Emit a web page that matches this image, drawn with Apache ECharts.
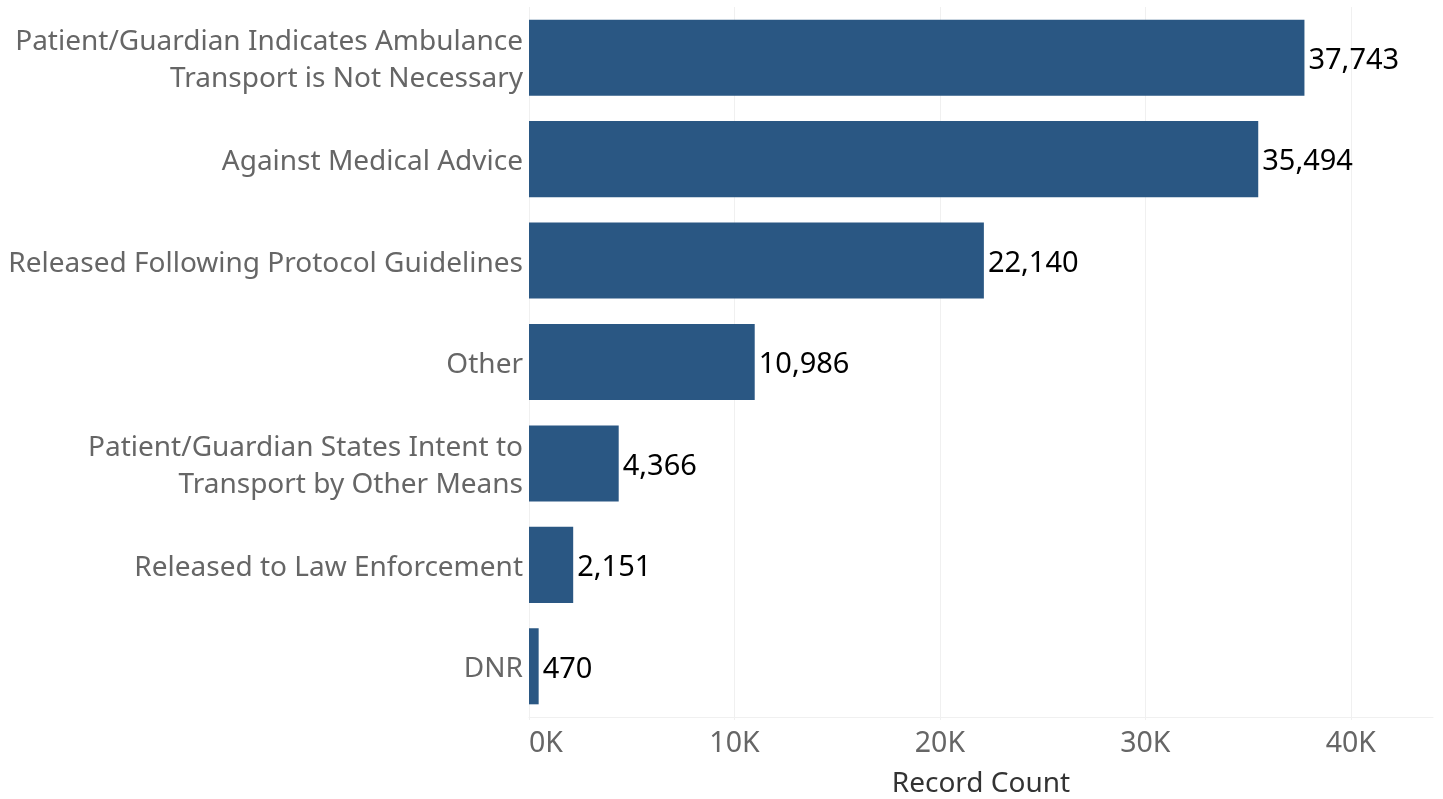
<!DOCTYPE html>
<html>
<head>
<meta charset="utf-8">
<title>Record Count by Disposition</title>
<script src="https://cdn.jsdelivr.net/npm/echarts@6/dist/echarts.min.js"></script>
<style>
  html, body { margin: 0; padding: 0; background: #ffffff; }
  #chart { width: 1443px; height: 799px; }
</style>
</head>
<body>
<div id="chart"></div>
<script>
// Dispositions, top to bottom
const categories = [
  'Patient/Guardian Indicates Ambulance\nTransport is Not Necessary',
  'Against Medical Advice',
  'Released Following Protocol Guidelines',
  'Other',
  'Patient/Guardian States Intent to\nTransport by Other Means',
  'Released to Law Enforcement',
  'DNR'
];
const recordCounts = [37743, 35494, 22140, 10986, 4366, 2151, 470];

const axisMax = 44000;
const tickStep = 10000;

const FONT = '"Noto Sans", "Open Sans", sans-serif';
const BAR_COLOR = '#2a5783';
const GRID_COLOR = '#f0f0f0';

const chart = echarts.init(document.getElementById('chart'), null, { renderer: 'canvas' });

chart.setOption({
  backgroundColor: '#ffffff',
  animation: false,
  grid: { left: 529, right: 10, top: 7, bottom: 82, containLabel: false, outerBoundsMode: 'none' },
  xAxis: {
    type: 'value',
    min: 0,
    max: axisMax,
    interval: tickStep,
    name: 'Record Count',
    nameLocation: 'middle',
    nameGap: 53,
    nameTextStyle: { color: '#333333', fontSize: 28, fontFamily: FONT },
    axisLine: { show: true, lineStyle: { color: GRID_COLOR, width: 1 } },
    axisTick: { show: true, length: 3, lineStyle: { color: GRID_COLOR } },
    splitLine: { show: true, showMinLine: true, showMaxLine: false, lineStyle: { color: GRID_COLOR, width: 1 } },
    axisLabel: {
      color: '#666666',
      fontSize: 28.5,
      fontFamily: FONT,
      margin: 12,
      showMaxLabel: false,
      alignMinLabel: 'left',
      formatter: v => (v / 1000) + 'K'
    }
  },
  yAxis: {
    type: 'category',
    inverse: true,
    data: categories,
    axisLine: { show: false },
    axisTick: { show: false },
    splitLine: { show: false },
    axisLabel: {
      margin: 6,
      align: 'right',
      // each line is a rich token nudged slightly down so it sits on the bar's centre
      formatter: v => v.split('\n').map(s => '{c|' + s + '}').join('\n'),
      rich: {
        c: {
          color: '#666666',
          fontSize: 28,
          fontFamily: FONT,
          lineHeight: 37,
          padding: [6, 0, 0, 0],
          align: 'right'
        }
      }
    }
  },
  series: [{
    type: 'bar',
    data: recordCounts,
    barCategoryGap: '25%',
    itemStyle: { color: BAR_COLOR },
    label: {
      show: true,
      position: 'right',
      distance: 4,
      offset: [0, 3],
      color: '#000000',
      fontSize: 29,
      fontFamily: FONT,
      formatter: p => p.value.toLocaleString('en-US')
    }
  }]
});
</script>
</body>
</html>
